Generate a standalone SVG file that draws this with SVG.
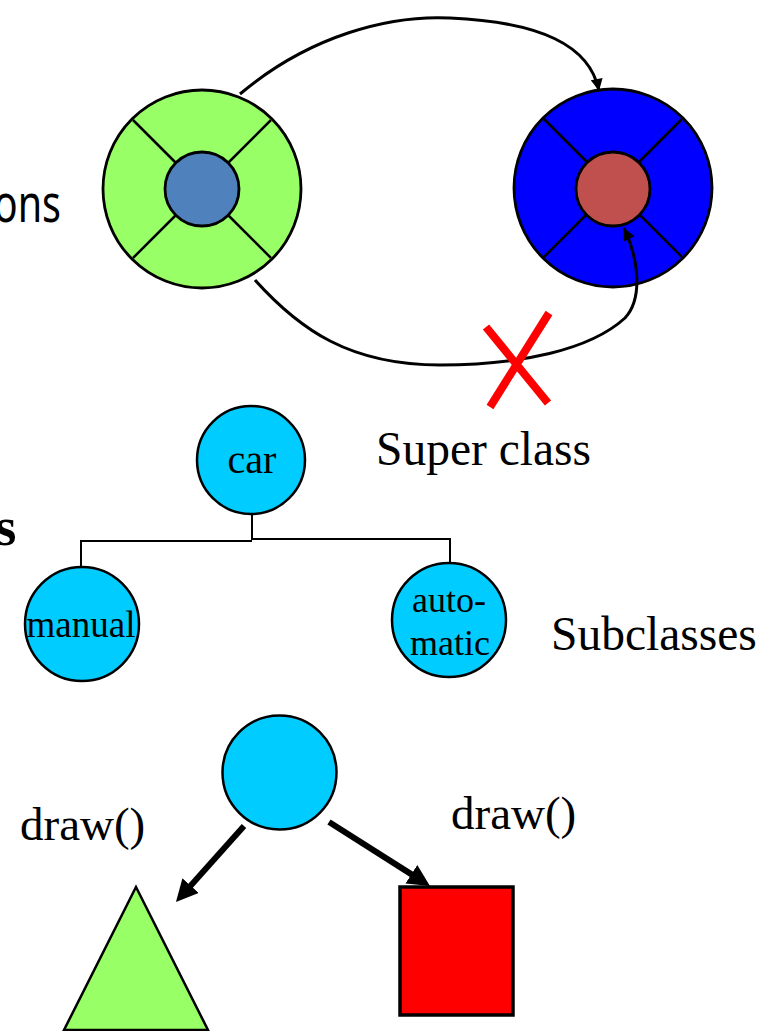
<svg xmlns="http://www.w3.org/2000/svg" width="767" height="1031" viewBox="0 0 767 1031">
<style>
.ser{font-family:"Liberation Serif","Times New Roman",serif;fill:#000}
.ring{stroke:#000;stroke-width:2.8}
.spoke{stroke:#000;stroke-width:2.5;fill:none}
.tree{stroke:#000;stroke-width:2;fill:none}
.cyan{fill:#00ccff;stroke:#000;stroke-width:2.5}
.conn{fill:none;stroke:#000;stroke-width:3}
.thick{fill:none;stroke:#000;stroke-width:6}
</style>
<defs>
<marker id="ah" viewBox="0 0 10 10" refX="10" refY="5" markerUnits="userSpaceOnUse" markerWidth="14" markerHeight="12" orient="auto">
<path d="M0,0 L10,5 L0,10 z" fill="#000"/>
</marker>
<marker id="ahb" viewBox="0 0 20 20" refX="4" refY="10" markerUnits="userSpaceOnUse" markerWidth="22" markerHeight="22" orient="auto">
<path d="M0,0 L20,10 L0,20 z" fill="#000"/>
</marker>
</defs>

<g id="label-ons"><text transform="translate(61,222) scale(0.76,1)" text-anchor="end" font-family="'Noto Sans','Open Sans',sans-serif" font-size="52" fill="#000">ons</text></g>
<g id="label-s"><text x="-5" y="545" class="ser" font-size="55" font-weight="bold">s</text></g>

<g id="object-a">
<circle cx="202" cy="189" r="99" fill="#99ff66" class="ring"/>
<path class="spoke" d="M133,120 L176,163 M271,120 L228,163 M133,258 L176,215 M271,258 L228,215"/>
<circle cx="202" cy="189" r="37" fill="#4f81bd" class="ring"/>
</g>

<g id="object-b">
<circle cx="613" cy="188" r="99" fill="#0000ff" class="ring"/>
<path class="spoke" d="M544,119 L587,162 M682,119 L639,162 M544,257 L587,214 M682,257 L639,214"/>
<circle cx="613" cy="189" r="37" fill="#c0504d" class="ring"/>
</g>

<g id="connectors">
<path class="conn" d="M240,94 C310,35 390,15 450,18 C540,22 590,45 599,91" marker-end="url(#ah)"/>
<path class="conn" d="M255,280 C300,330 350,365 440,365 C520,365 590,350 625,318 C642,300 640,262 624,228" marker-end="url(#ah)"/>
<path class="tree" d="M252,513 V540 M81,567 V541 H252 M252,539 H450 V563"/>
<path class="thick" d="M244,826 L187.7,888.9" marker-end="url(#ahb)"/>
<path class="thick" d="M329,822 L415.1,876.6" marker-end="url(#ahb)"/>
</g>

<g id="cross">
<path d="M486,327 L548,403 M549,313 L490,407" stroke="#ff0000" stroke-width="8" fill="none"/>
</g>

<g id="label-superclass"><text x="376" y="465" class="ser" font-size="47.5">Super class</text></g>

<g id="node-car">
<circle cx="251" cy="460" r="54" class="cyan"/>
<text x="252" y="473" text-anchor="middle" class="ser" font-size="40">car</text>
</g>
<g id="node-manual">
<circle cx="82" cy="624" r="57" class="cyan"/>
<text x="81" y="637" text-anchor="middle" class="ser" font-size="37">manual</text>
</g>
<g id="node-automatic">
<circle cx="449" cy="620" r="57" class="cyan"/>
<text x="449" y="612" text-anchor="middle" class="ser" font-size="36">auto-</text>
<text x="450" y="655" text-anchor="middle" class="ser" font-size="36">matic</text>
</g>
<g id="label-subclasses"><text x="551" y="650" class="ser" font-size="47.5">Subclasses</text></g>

<g id="node-shape">
<circle cx="279.5" cy="772.5" r="57" class="cyan"/>
</g>
<g id="label-draw-left"><text x="20" y="840" class="ser" font-size="47">draw()</text></g>
<g id="label-draw-right"><text x="451" y="829" class="ser" font-size="47">draw()</text></g>

<g id="node-triangle">
<polygon points="136,887 208,1030 64,1030" fill="#99ff66" stroke="#000" stroke-width="2.5"/>
</g>
<g id="node-square">
<rect x="400" y="887" width="113" height="128" fill="#ff0000" stroke="#000" stroke-width="3.5"/>
</g>
</svg>
